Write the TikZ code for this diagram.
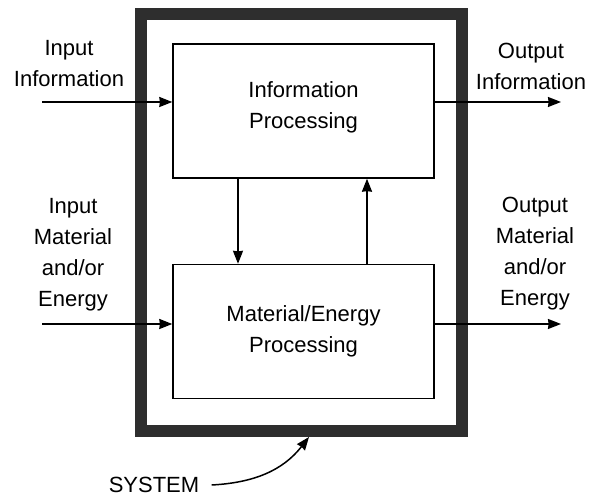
\documentclass[tikz,border=0pt]{standalone}
\usepackage{fontspec}
\setmainfont{Liberation Sans}
\usetikzlibrary{arrows.meta,positioning,calc}

\begin{document}
\begin{tikzpicture}[
  x=0.5pt, y=0.5pt,
  font=\fontsize{11}{15.5}\selectfont,
  sysbox/.style  = {draw=black!82, line width=6pt, inner sep=0pt,
                    minimum width=160.75pt, minimum height=208.25pt},
  procbox/.style = {draw, line width=0.7pt, inner sep=0pt, align=center,
                    minimum width=130.5pt, minimum height=67pt},
  lbl/.style     = {align=center, inner sep=0pt},
  arr/.style     = {-{Stealth[length=6.5pt, width=5pt, inset=0.3pt]}, line width=0.75pt},
]
\useasboundingbox (0,0) rectangle (596,-496);

%% ─── boxes ────────────────────────────────────────────────────────────────
\node[sysbox] (system) at (301.25,-222.75) {};
\node[procbox, text depth=6pt] (info) at (303.5,-111) {Information\\Processing};
\node[procbox] (mat)  at (303.5,-331.5) {Material/Energy\\Processing};

%% ─── labels ───────────────────────────────────────────────────────────────
\node[lbl] (ininfo)  at (69,-64)  {Input\\Information};
\node[lbl] (outinfo) at (531,-66) {Output\\Information};
\node[lbl] (inmat)   at (73,-255) {Input\\Material\\and/or\\Energy};
\node[lbl] (outmat)  at (535,-254) {Output\\Material\\and/or\\Energy};
\node[lbl] (sys)     at (154,-485) {SYSTEM};

%% ─── flow arrows ──────────────────────────────────────────────────────────
\coordinate (inI)  at (42,-102);
\coordinate (outI) at (561,-102);
\coordinate (inM)  at (42,-324);
\coordinate (outM) at (561,-324);
\coordinate (dn)   at (238,0);
\coordinate (up)   at (367,0);
\coordinate (systip) at (309,-437);

\draw[arr] (inI) -- (inI -| info.west);
\draw[arr] (outI -| info.east) -- (outI);
\draw[arr] (inM) -- (inM -| mat.west);
\draw[arr] (outM -| mat.east) -- (outM);
\draw[arr] (dn |- info.south) -- (dn |- mat.north);
\draw[arr] (up |- mat.north) -- (up |- info.south);

%% ─── system pointer ───────────────────────────────────────────────────────
\draw[arr] ([xshift=6pt]sys.east) to[out=3, in=-128] (systip);

\end{tikzpicture}
\end{document}
